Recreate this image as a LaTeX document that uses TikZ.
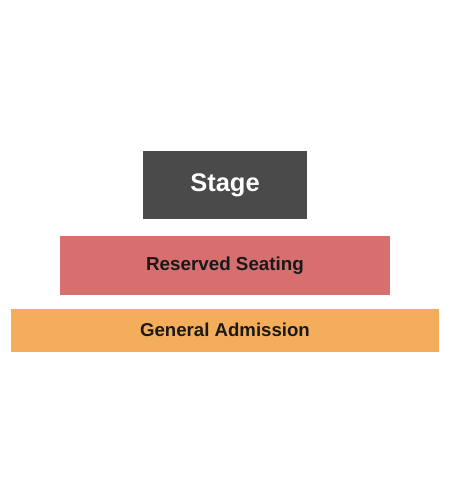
\documentclass[tikz,border=0pt]{standalone}
\usepackage{fontspec}
\setmainfont{Liberation Sans}
\usepackage{xcolor}
\usetikzlibrary{positioning}
\definecolor{stagegray}{HTML}{4A4A4A}
\definecolor{reservedred}{HTML}{D76F6F}
\definecolor{generalorange}{HTML}{F4AD5A}

\begin{document}
\begin{tikzpicture}[font=\bfseries, inner sep=0pt]
      \useasboundingbox (0,0) rectangle (9,10);
      \node[fill=stagegray, text=white, minimum width=3.27cm, minimum height=1.36cm, font=\fontsize{14.5}{17}\selectfont\bfseries]
            (stage) at (4.5,6.3) {Stage};
      \node[fill=reservedred, text=black!90, minimum width=6.61cm, minimum height=1.17cm, font=\fontsize{10.7}{13}\selectfont\bfseries, below=0.334cm of stage]
            (reserved) {Reserved Seating};
      \node[fill=generalorange, text=black!90, minimum width=8.55cm, minimum height=0.85cm, font=\fontsize{10.6}{13}\selectfont\bfseries, below=0.268cm of reserved]
            (general) {General Admission};
    \end{tikzpicture}
\end{document}
